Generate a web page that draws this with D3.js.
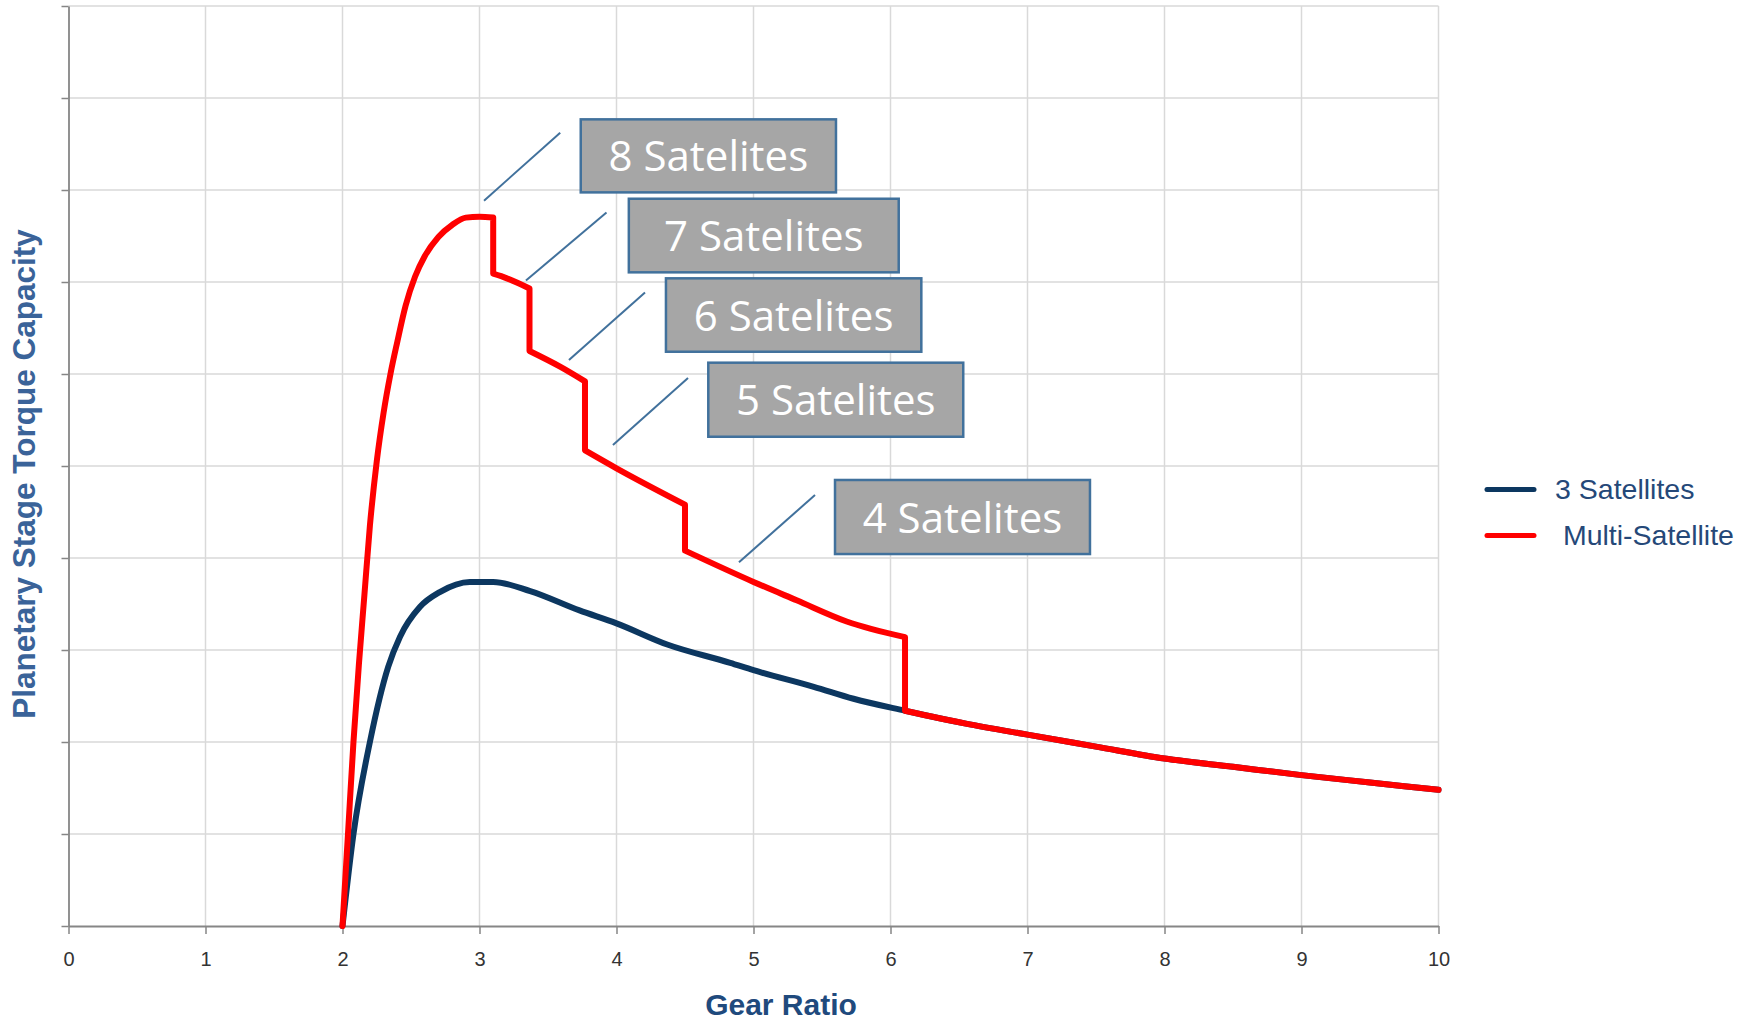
<!DOCTYPE html>
<html>
<head>
<meta charset="utf-8">
<script src="https://cdn.jsdelivr.net/npm/d3@7"></script>
<style>
  html, body { margin: 0; padding: 0; background: #ffffff; }
  svg { display: block; }
</style>
</head>
<body>
<svg id="chart" width="1752" height="1023"></svg>
<script>
// ---------- data ----------
const xTicks = [0, 1, 2, 3, 4, 5, 6, 7, 8, 9, 10];
const yTicks = [0, 1, 2, 3, 4, 5, 6, 7, 8, 9, 10];

const seriesNames = ["3 Satellites", " Multi-Satellite"];

const ratio3 = [2.0, 2.08, 2.2, 2.334, 2.42, 2.566, 2.71, 2.93, 3.10, 3.37, 3.73, 4.0, 4.37, 4.83, 5.0, 5.44, 5.73, 6.106, 6.55, 7.0, 7.5, 8.0, 8.5, 9.0, 9.5, 10.0];
const torque3 = [0, 1.0, 2.0, 2.82, 3.145, 3.47, 3.63, 3.74, 3.74, 3.64, 3.43, 3.29, 3.06, 2.86, 2.78, 2.60, 2.47, 2.34, 2.20, 2.08, 1.95, 1.82, 1.73, 1.64, 1.56, 1.48];

// multi-satellite curve (repeated ratio = vertical step to fewer satellites)
const ratioMulti = [2.0, 2.04, 2.08, 2.12, 2.16, 2.2, 2.25, 2.3, 2.35, 2.4, 2.46, 2.53, 2.6, 2.7, 2.8, 2.9, 3.0, 3.1,
                    3.1, 3.2, 3.365,
                    3.365, 3.588, 3.77,
                    3.77, 4.0, 4.5,
                    4.5, 5.0, 5.315, 5.68, 6.106,
                    6.106, 6.55, 7.0, 7.5, 8.0, 8.5, 9.0, 9.5, 10.0];
const torqueMulti = [0, 1.0, 2.0, 2.85, 3.6, 4.35, 5.05, 5.58, 6.0, 6.35, 6.74, 7.06, 7.28, 7.49, 7.62, 7.70, 7.71, 7.70,
                     7.09, 7.04, 6.93,
                     6.25, 6.08, 5.92,
                     5.17, 4.975, 4.58,
                     4.08, 3.74, 3.54, 3.31, 3.14,
                     2.34, 2.20, 2.08, 1.95, 1.82, 1.73, 1.64, 1.56, 1.48];

// annotation labels and the data points their callouts connect
const noteLabels = ["8 Satelites", "7 Satelites", "6 Satelites", "5 Satelites", "4 Satelites"];
const noteLineX1 = [3.033, 3.339, 3.653, 3.974, 4.894];
const noteLineY1 = [7.884, 7.016, 6.152, 5.228, 3.953];
const noteLineX2 = [3.589, 3.927, 4.208, 4.522, 5.449];
const noteLineY2 = [8.623, 7.755, 6.886, 5.957, 4.685];
const noteBoxX0 = [3.739, 4.090, 4.361, 4.670, 5.595];
const noteBoxX1 = [5.602, 6.060, 6.225, 6.531, 7.456];
const noteBoxY0 = [8.768, 7.905, 7.040, 6.123, 4.848];
const noteBoxY1 = [7.974, 7.105, 6.242, 5.318, 4.043];

// ---------- layout ----------
const svg = d3.select("#chart");
const x = d3.scaleLinear().domain([0, 10]).range([68.5, 1438.5]);
const y = d3.scaleLinear().domain([0, 10]).range([926, 6]);

const gridColor = "#d9d9d9";
const axisColor = "#868686";
const navy = "#0c3760";
const red = "#ff0000";

// gridlines
const grid = svg.append("g");
grid.selectAll("line.vx").data(xTicks.filter(d => d > 0)).join("line")
  .attr("x1", d => x(d)).attr("x2", d => x(d))
  .attr("y1", y(0)).attr("y2", y(10))
  .attr("stroke", gridColor).attr("stroke-width", 1.5);
grid.selectAll("line.hy").data(yTicks.filter(d => d > 0)).join("line")
  .attr("x1", x(0)).attr("x2", x(10))
  .attr("y1", d => y(d)).attr("y2", d => y(d))
  .attr("stroke", gridColor).attr("stroke-width", 1.5);

// axes
const xAxis = d3.axisBottom(x).tickValues(xTicks).tickFormat(d3.format("d")).tickSize(8).tickPadding(18).tickSizeOuter(0);
const yAxis = d3.axisLeft(y).tickValues(yTicks).tickFormat("").tickSize(7).tickSizeOuter(0);

const gx = svg.append("g").attr("transform", `translate(0,${y(0)})`).call(xAxis);
gx.select(".domain").attr("stroke", axisColor).attr("stroke-width", 1.8);
gx.selectAll(".tick line").attr("stroke", axisColor).attr("stroke-width", 1.5);
gx.selectAll(".tick text").attr("fill", "#333333")
  .style("font-family", "'Liberation Sans', Arial, sans-serif").style("font-size", "20px");

const gy = svg.append("g").attr("transform", `translate(${x(0)},0)`).call(yAxis);
gy.select(".domain").attr("stroke", axisColor).attr("stroke-width", 1.8);
gy.selectAll(".tick line").attr("stroke", axisColor).attr("stroke-width", 1.5);

// axis titles
svg.append("text")
  .attr("x", 781).attr("y", 1015)
  .attr("text-anchor", "middle")
  .attr("fill", "#1f4a7d")
  .style("font-family", "'Liberation Sans', Arial, sans-serif")
  .style("font-weight", "bold").style("font-size", "30px")
  .text("Gear Ratio");

svg.append("text")
  .attr("transform", "translate(35,474) rotate(-90)")
  .attr("text-anchor", "middle")
  .attr("fill", "#3a6399")
  .style("font-family", "'Liberation Sans', Arial, sans-serif")
  .style("font-weight", "bold").style("font-size", "31.5px")
  .text("Planetary Stage Torque Capacity");

// series
const data3 = ratio3.map((r, i) => ({ r, t: torque3[i] }));
const dataMulti = ratioMulti.map((r, i) => ({ r, t: torqueMulti[i] }));

const smooth = d3.line().x(d => x(d.r)).y(d => y(d.t)).curve(d3.curveMonotoneX);

svg.append("path")
  .datum(data3)
  .attr("fill", "none").attr("stroke", navy).attr("stroke-width", 6)
  .attr("stroke-linejoin", "round").attr("stroke-linecap", "round")
  .attr("d", smooth);

// split the multi-satellite series into runs between the vertical steps
const runs = [];
dataMulti.forEach((d, i) => {
  if (i === 0 || d.r === dataMulti[i - 1].r) runs.push([d]);
  else runs[runs.length - 1].push(d);
});
const multiPath = runs.map((run, i) => {
  const p = run.length > 1 ? smooth(run) : `M${x(run[0].r)},${y(run[0].t)}`;
  return i === 0 ? p : p.replace(/^M/, "L");
}).join("");

svg.append("path")
  .attr("fill", "none").attr("stroke", red).attr("stroke-width", 6)
  .attr("stroke-linejoin", "round").attr("stroke-linecap", "round")
  .attr("d", multiPath);

// annotations
const notes = noteLabels.map((label, i) => ({
  label,
  lx1: noteLineX1[i], ly1: noteLineY1[i], lx2: noteLineX2[i], ly2: noteLineY2[i],
  bx0: noteBoxX0[i], bx1: noteBoxX1[i], by0: noteBoxY0[i], by1: noteBoxY1[i]
}));

const gn = svg.append("g");
gn.selectAll("line.lead").data(notes).join("line")
  .attr("x1", d => x(d.lx1)).attr("y1", d => y(d.ly1))
  .attr("x2", d => x(d.lx2)).attr("y2", d => y(d.ly2))
  .attr("stroke", "#41719c").attr("stroke-width", 2);

gn.selectAll("rect.box").data(notes).join("rect")
  .attr("x", d => x(d.bx0)).attr("y", d => y(d.by0))
  .attr("width", d => x(d.bx1) - x(d.bx0)).attr("height", d => y(d.by1) - y(d.by0))
  .attr("fill", "#a6a6a6").attr("stroke", "#41719c").attr("stroke-width", 2.5);

gn.selectAll("text.note").data(notes).join("text")
  .attr("x", d => (x(d.bx0) + x(d.bx1)) / 2)
  .attr("y", d => (y(d.by0) + y(d.by1)) / 2 + 15.5)
  .attr("text-anchor", "middle")
  .attr("fill", "#ffffff")
  .style("font-family", "'Open Sans', sans-serif").style("font-size", "42px")
  .text(d => d.label);

// legend
const legend = svg.append("g");
const legendColors = [navy, red];
const legendY = [489.5, 535.5];
const legendTextX = [1555, 1555];
legend.selectAll("line").data(seriesNames).join("line")
  .attr("x1", 1487).attr("x2", 1534)
  .attr("y1", (d, i) => legendY[i]).attr("y2", (d, i) => legendY[i])
  .attr("stroke", (d, i) => legendColors[i]).attr("stroke-width", 5)
  .attr("stroke-linecap", "round");
legend.selectAll("text").data(seriesNames).join("text")
  .attr("x", (d, i) => legendTextX[i]).attr("y", (d, i) => legendY[i] + 9)
  .attr("fill", "#254878")
  .attr("xml:space", "preserve")
  .style("white-space", "pre")
  .style("font-family", "'Liberation Sans', Arial, sans-serif").style("font-size", "28.5px")
  .text(d => d);
</script>
</body>
</html>
